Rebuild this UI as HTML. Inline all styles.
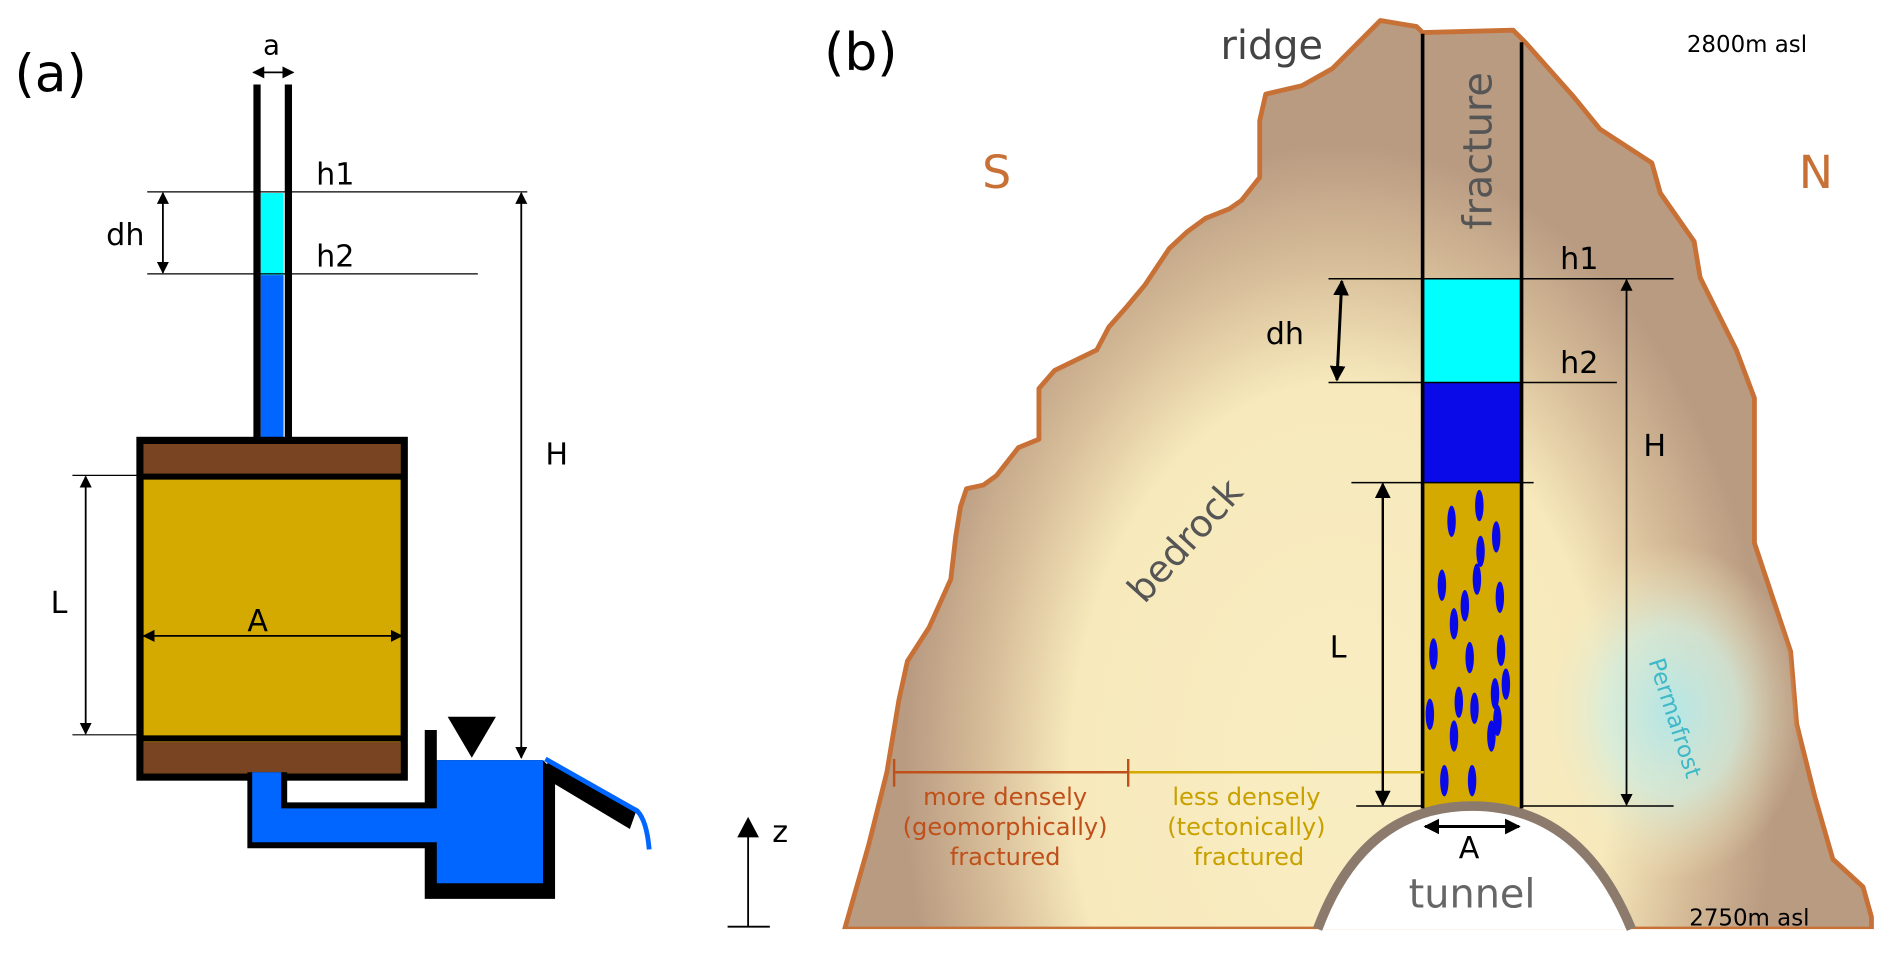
<!DOCTYPE html>
<html><head><meta charset="utf-8"><style>
html,body{margin:0;padding:0;background:#fff;}
svg{display:block;}
text{font-family:"DejaVu Sans","Liberation Sans",sans-serif;}
</style></head><body>
<svg width="1892" height="956" viewBox="0 0 1568 792.3" xmlns="http://www.w3.org/2000/svg">
<defs>
<radialGradient id="rock" gradientUnits="userSpaceOnUse" cx="0" cy="0" r="1" gradientTransform="translate(1110,640) scale(360,520)">
<stop offset="0" stop-color="#f8edc2"/>
<stop offset="0.62" stop-color="#f7e9bc"/>
<stop offset="0.82" stop-color="#d6bc98"/>
<stop offset="1" stop-color="#b99b82"/>
</radialGradient>
<radialGradient id="perma" gradientUnits="userSpaceOnUse" cx="0" cy="0" r="1" gradientTransform="translate(1385,590) scale(110,140)">
<stop offset="0" stop-color="#b5e6e6" stop-opacity="1"/>
<stop offset="0.5" stop-color="#d2eee0" stop-opacity="0.75"/>
<stop offset="1" stop-color="#f7e9bc" stop-opacity="0"/>
</radialGradient>
<marker id="ahb" viewBox="0 0 10 10" refX="9" refY="5" markerUnits="userSpaceOnUse" markerWidth="10" markerHeight="10" orient="auto-start-reverse"><path d="M0,0 L10,5 L0,10 z" fill="#000"/></marker>
<marker id="ahk" viewBox="0 0 10 10" refX="9" refY="5" markerUnits="userSpaceOnUse" markerWidth="13" markerHeight="13" orient="auto-start-reverse"><path d="M0,0 L10,5 L0,10 z" fill="#000"/></marker>
</defs>

<text x="12" y="76" font-size="43" fill="#000">(a)</text>
<text x="218" y="45" font-size="23">a</text>
<line x1="210" y1="60" x2="243" y2="60" stroke="#000" stroke-width="1.5" marker-start="url(#ahb)" marker-end="url(#ahb)"/>
<rect x="216" y="160" width="19" height="68" fill="#00ffff"/>
<rect x="216" y="228" width="19" height="140" fill="#0066ff"/>
<line x1="213" y1="70" x2="213" y2="366" stroke="#000" stroke-width="6"/>
<line x1="239" y1="70" x2="239" y2="366" stroke="#000" stroke-width="6"/>
<line x1="122" y1="159" x2="437" y2="159" stroke="#000" stroke-width="1"/>
<line x1="122" y1="227" x2="396" y2="227" stroke="#000" stroke-width="1"/>
<text x="262" y="153" font-size="25">h1</text>
<text x="262" y="221" font-size="25">h2</text>
<text x="88" y="203" font-size="25">dh</text>
<line x1="135" y1="160" x2="135" y2="226" stroke="#000" stroke-width="1.5" marker-start="url(#ahb)" marker-end="url(#ahb)"/>
<line x1="432" y1="160" x2="432" y2="628" stroke="#000" stroke-width="1.5" marker-start="url(#ahb)" marker-end="url(#ahb)"/>
<text x="452" y="385" font-size="25">H</text>
<rect x="116" y="365" width="219" height="279" fill="#d4aa00" stroke="#000" stroke-width="6"/>
<rect x="119" y="368" width="213" height="26" fill="#784421"/>
<rect x="119" y="615" width="213" height="26" fill="#784421"/>
<line x1="116" y1="395" x2="335" y2="395" stroke="#000" stroke-width="5"/>
<line x1="116" y1="612" x2="335" y2="612" stroke="#000" stroke-width="5"/>
<line x1="60" y1="394" x2="116" y2="394" stroke="#000" stroke-width="1"/>
<line x1="60" y1="609" x2="116" y2="609" stroke="#000" stroke-width="1"/>
<line x1="71" y1="395" x2="71" y2="608" stroke="#000" stroke-width="1.5" marker-start="url(#ahb)" marker-end="url(#ahb)"/>
<text x="42" y="508" font-size="25">L</text>
<line x1="119" y1="527" x2="333" y2="527" stroke="#000" stroke-width="1.5" marker-start="url(#ahb)" marker-end="url(#ahb)"/>
<text x="205" y="523" font-size="25">A</text>
<path d="M352,605 L362,605 L362,630 L450,630 L460,640 L460,745 L352,745 L352,703 L205,703 L205,640 L238,640 L238,665 L352,665 Z" fill="#000"/>
<path d="M209,640 L233,640 L233,670 L365,670 L365,698 L209,698 Z" fill="#0066ff"/>
<path d="M362,630 L450,630 L450,732 L362,732 Z" fill="#0066ff"/>
<path d="M450,640 L455,630 L527,673 L522,687 L460,650 Z" fill="#000"/>
<path d="M452,629 L528,672 Q536,680 538,704" fill="none" stroke="#0066ff" stroke-width="4"/>
<polygon points="371,594 411,594 391,628" fill="#000"/>
<line x1="620" y1="768" x2="620" y2="692" stroke="#000" stroke-width="1.5"/>
<polygon points="611,694 629,694 620,677" fill="#000"/>
<line x1="603" y1="768" x2="638" y2="768" stroke="#000" stroke-width="1.5"/>
<text x="640" y="698" font-size="25">z</text>

<text x="683" y="58" font-size="43" fill="#000">(b)</text>
<path d="M700,770 L720,700 L735,640 L745,580 L752,548 L770,520 L788,480 L792,445 L796,420 L801,405 L815,402 L826,394 L844,371 L861,364 L861,322 L874,307 L909,290 L919,271 L934,254 L949,236 L969,206 L984,192 L999,181 L1019,173 L1029,166 L1044,147 L1044,100 L1049,78 L1079,71 L1104,57 L1144,17 L1174,22 L1179,27 L1254,25 L1264,35 L1304,80 L1326,107 L1369,135 L1376,160 L1404,200 L1409,230 L1439,290 L1454,330 L1454,450 L1484,540 L1489,600 L1504,660 L1519,712 L1544,735 L1551,760 L1551,770 Z" fill="url(#rock)" stroke="#c87137" stroke-width="4" stroke-linejoin="round"/>
<path d="M700,770 L720,700 L735,640 L745,580 L752,548 L770,520 L788,480 L792,445 L796,420 L801,405 L815,402 L826,394 L844,371 L861,364 L861,322 L874,307 L909,290 L919,271 L934,254 L949,236 L969,206 L984,192 L999,181 L1019,173 L1029,166 L1044,147 L1044,100 L1049,78 L1079,71 L1104,57 L1144,17 L1174,22 L1179,27 L1254,25 L1264,35 L1304,80 L1326,107 L1369,135 L1376,160 L1404,200 L1409,230 L1439,290 L1454,330 L1454,450 L1484,540 L1489,600 L1504,660 L1519,712 L1544,735 L1551,760 L1551,770 Z" fill="url(#perma)"/>
<rect x="696" y="770" width="860" height="25" fill="#fff"/>
<rect x="1180" y="231" width="80" height="86" fill="#00ffff"/>
<rect x="1180" y="317" width="80" height="83" fill="#0a0ae8"/>
<rect x="1180" y="400" width="80" height="270" fill="#d4aa00"/>
<g fill="#0a0ae8">
<ellipse cx="1203" cy="432" rx="3.5" ry="13"/><ellipse cx="1226" cy="419" rx="3.5" ry="13"/><ellipse cx="1240" cy="445" rx="3.5" ry="13"/><ellipse cx="1227" cy="457" rx="3.5" ry="13"/><ellipse cx="1224" cy="480" rx="3.5" ry="13"/><ellipse cx="1195" cy="485" rx="3.5" ry="13"/><ellipse cx="1243" cy="495" rx="3.5" ry="13"/><ellipse cx="1214" cy="502" rx="3.5" ry="13"/><ellipse cx="1205" cy="517" rx="3.5" ry="13"/><ellipse cx="1188" cy="542" rx="3.5" ry="13"/><ellipse cx="1218" cy="545" rx="3.5" ry="13"/><ellipse cx="1244" cy="539" rx="3.5" ry="13"/><ellipse cx="1248" cy="567" rx="3.5" ry="13"/><ellipse cx="1239" cy="575" rx="3.5" ry="13"/><ellipse cx="1209" cy="582" rx="3.5" ry="13"/><ellipse cx="1222" cy="587" rx="3.5" ry="13"/><ellipse cx="1185" cy="592" rx="3.5" ry="13"/><ellipse cx="1241" cy="597" rx="3.5" ry="13"/><ellipse cx="1236" cy="610" rx="3.5" ry="13"/><ellipse cx="1205" cy="610" rx="3.5" ry="13"/><ellipse cx="1197" cy="647" rx="3.5" ry="13"/><ellipse cx="1220" cy="647" rx="3.5" ry="13"/>
</g>
<path d="M1092,770 Q1130,668 1220,668 Q1310,668 1352,770 Z" fill="#fff"/>
<path d="M1092,770 Q1130,668 1220,668 Q1310,668 1352,770" fill="none" stroke="#8c7a6d" stroke-width="8"/>
<line x1="1179" y1="28" x2="1179" y2="670" stroke="#000" stroke-width="3"/>
<line x1="1261" y1="35" x2="1261" y2="670" stroke="#000" stroke-width="3"/>
<line x1="741" y1="640" x2="935" y2="640" stroke="#c0501a" stroke-width="2"/>
<line x1="741" y1="629" x2="741" y2="652" stroke="#c0501a" stroke-width="2"/>
<line x1="935" y1="629" x2="935" y2="652" stroke="#c0501a" stroke-width="2"/>
<line x1="936" y1="640" x2="1180" y2="640" stroke="#d4aa00" stroke-width="2"/>
<g font-size="20" text-anchor="middle" fill="#c0501a">
<text x="833" y="667">more densely</text><text x="833" y="692">(geomorphically)</text><text x="833" y="717">fractured</text></g>
<g font-size="20" text-anchor="middle" fill="#c8a000">
<text x="1033" y="667">less densely</text><text x="1033" y="692">(tectonically)</text><text x="1035" y="717">fractured</text></g>
<line x1="1101" y1="231" x2="1387" y2="231" stroke="#000" stroke-width="1.2"/>
<line x1="1101" y1="317" x2="1340" y2="317" stroke="#000" stroke-width="1.2"/>
<line x1="1120" y1="400" x2="1271" y2="400" stroke="#000" stroke-width="1.2"/>
<line x1="1124" y1="668" x2="1180" y2="668" stroke="#000" stroke-width="1.2"/>
<line x1="1260" y1="668" x2="1387" y2="668" stroke="#000" stroke-width="1.2"/>
<text x="1293" y="223" font-size="25">h1</text>
<text x="1293" y="309" font-size="25">h2</text>
<text x="1049" y="285" font-size="25">dh</text>
<line x1="1112" y1="233" x2="1108" y2="315" stroke="#000" stroke-width="2.5" marker-start="url(#ahk)" marker-end="url(#ahk)"/>
<line x1="1348" y1="232" x2="1348" y2="667" stroke="#000" stroke-width="1.5" marker-start="url(#ahb)" marker-end="url(#ahb)"/>
<text x="1362" y="378" font-size="25">H</text>
<line x1="1146" y1="401" x2="1146" y2="667" stroke="#000" stroke-width="2" marker-start="url(#ahk)" marker-end="url(#ahk)"/>
<text x="1102" y="545" font-size="25">L</text>
<line x1="1181" y1="685" x2="1259" y2="685" stroke="#000" stroke-width="2.5" marker-start="url(#ahk)" marker-end="url(#ahk)"/>
<text x="1209" y="711" font-size="25">A</text>
<text x="1220" y="752" font-size="33" fill="#666" text-anchor="middle">tunnel</text>
<text x="1054" y="49" font-size="33" fill="#444" text-anchor="middle">ridge</text>
<text transform="translate(1236,125) rotate(-90)" font-size="33" fill="#555" text-anchor="middle">fracture</text>
<text x="1398" y="43" font-size="19">2800m asl</text>
<text x="1400" y="767" font-size="19">2750m asl</text>
<text x="826" y="156" font-size="38" fill="#c87137" text-anchor="middle">S</text>
<text x="1505" y="156" font-size="38" fill="#c87137" text-anchor="middle">N</text>
<text transform="translate(990,455) rotate(-48)" font-size="31" fill="#555" text-anchor="middle">bedrock</text>
<text transform="translate(1382,597) rotate(72)" font-size="19" fill="#3fb8c8" text-anchor="middle">Permafrost</text>
</svg>
</body></html>
